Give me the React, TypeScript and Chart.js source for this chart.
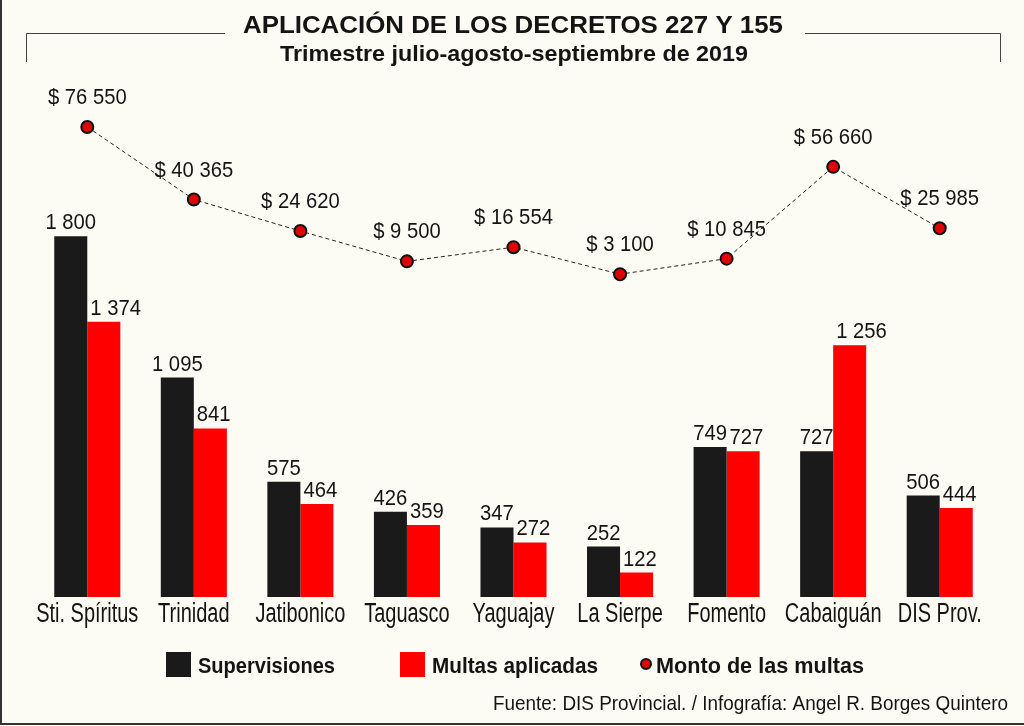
import React, { useEffect, useRef } from "react";
import { Chart, registerables } from "chart.js";

Chart.register(...registerables);

const categories = ["Sti. Spíritus", "Trinidad", "Jatibonico", "Taguasco", "Yaguajay", "La Sierpe", "Fomento", "Cabaiguán", "DIS Prov."];
const supervisiones = [1800, 1095, 575, 426, 347, 252, 749, 727, 506];
const multas = [1374, 841, 464, 359, 272, 122, 727, 1256, 444];
const monto = [76550, 40365, 24620, 9500, 16554, 3100, 10845, 56660, 25985];

const titleText = "APLICACIÓN DE LOS DECRETOS 227 Y 155";
const subtitleText = "Trimestre julio-agosto-septiembre de 2019";
const sourceText = "Fuente: DIS Provincial. / Infografía: Angel R. Borges Quintero";
const legendLabels = ["Supervisiones", "Multas aplicadas", "Monto de las multas"];

const FONT = '"Liberation Sans", Arial, sans-serif';
const BLACK = "#1b1a1a";
const RED = "#ff0000";
const TEXT = "#141414";

const fmt = (n: number) => String(n).replace(/\B(?=(\d{3})+(?!\d))/g, " ");

function drawScaled(ctx: any, text: string, x: number, y: number, font: string, align: "left" | "center" | "right", opts: { width?: number; scale?: number }) {
  ctx.save();
  ctx.font = font;
  const w = ctx.measureText(text).width;
  const sx = opts.width ? opts.width / w : opts.scale || 1;
  ctx.translate(x, y);
  ctx.scale(sx, 1);
  ctx.textAlign = align;
  ctx.textBaseline = "alphabetic";
  ctx.fillText(text, 0, 0);
  ctx.restore();
  return w * sx;
}

function measureScaled(ctx: any, text: string, font: string, scale: number) {
  ctx.save();
  ctx.font = font;
  const w = ctx.measureText(text).width * scale;
  ctx.restore();
  return w;
}

const decorPlugin = {
  id: "decor",
  beforeDraw(chart: any) {
    const ctx = chart.ctx;
    ctx.save();
    ctx.strokeStyle = "#333";
    ctx.lineWidth = 2;
    ctx.beginPath();
    ctx.moveTo(1, 0);
    ctx.lineTo(1, 724);
    ctx.lineTo(1024, 724);
    ctx.stroke();
    ctx.lineWidth = 1;
    ctx.strokeStyle = "#444";
    ctx.beginPath();
    ctx.moveTo(26.5, 62);
    ctx.lineTo(26.5, 33.5);
    ctx.lineTo(225, 33.5);
    ctx.moveTo(805, 33.5);
    ctx.lineTo(1000.5, 33.5);
    ctx.lineTo(1000.5, 62);
    ctx.stroke();
    ctx.fillStyle = TEXT;
    drawScaled(ctx, titleText, 513, 33, `bold 23px ${FONT}`, "center", { width: 540 });
    drawScaled(ctx, subtitleText, 514, 61, `bold 22px ${FONT}`, "center", { width: 468 });
    ctx.fillStyle = BLACK;
    ctx.fillRect(166, 652, 25, 25);
    ctx.fillStyle = RED;
    ctx.fillRect(400, 652, 25, 25);
    ctx.fillStyle = TEXT;
    drawScaled(ctx, legendLabels[0], 198, 673, `bold 22px ${FONT}`, "left", { width: 137 });
    drawScaled(ctx, legendLabels[1], 432, 673, `bold 22px ${FONT}`, "left", { width: 166 });
    drawScaled(ctx, legendLabels[2], 656, 673, `bold 22px ${FONT}`, "left", { width: 208 });
    ctx.beginPath();
    ctx.arc(646, 664, 5, 0, Math.PI * 2);
    ctx.fillStyle = "#e00000";
    ctx.fill();
    ctx.lineWidth = 2;
    ctx.strokeStyle = "#111";
    ctx.stroke();
    ctx.fillStyle = TEXT;
    drawScaled(ctx, sourceText, 1008, 710, `21px ${FONT}`, "right", { width: 515 });
    ctx.restore();
  },
};

const LABEL_FONT = `22px ${FONT}`;
const LABEL_SCALE = 0.92;

const labelPlugin = {
  id: "valueLabels",
  afterDatasetsDraw(chart: any) {
    const ctx = chart.ctx;
    ctx.save();
    ctx.fillStyle = TEXT;
    chart.data.datasets.forEach((ds: any, i: number) => {
      const meta = chart.getDatasetMeta(i);
      meta.data.forEach((el: any, j: number) => {
        const v = ds.data[j];
        if (ds.type === "line") {
          drawScaled(ctx, "$ " + fmt(v), el.x, el.y - 23, LABEL_FONT, "center", { scale: LABEL_SCALE });
        } else if (i === 2) {
          const txt = fmt(v);
          const w = measureScaled(ctx, txt, LABEL_FONT, LABEL_SCALE);
          const left = el.x - el.width / 2;
          const cx = Math.max(el.x, left + 3 + w / 2);
          drawScaled(ctx, txt, cx, el.y - 7, LABEL_FONT, "center", { scale: LABEL_SCALE });
        } else {
          drawScaled(ctx, fmt(v), el.x, el.y - 7, LABEL_FONT, "center", { scale: LABEL_SCALE });
        }
      });
    });
    const xs = chart.scales.x;
    chart.data.labels.forEach((lab: string, i: number) => {
      drawScaled(ctx, lab, xs.getPixelForTick(i), 622, `27px ${FONT}`, "center", { scale: 0.74 });
    });
    ctx.restore();
  },
};

export default function App() {
  const ref = useRef<HTMLCanvasElement>(null);
  useEffect(() => {
    if (!ref.current) return;
    const chart = new Chart(ref.current, {
      type: "bar",
      data: {
        labels: categories,
        datasets: [
          {
            type: "line",
            label: legendLabels[2],
            data: monto,
            yAxisID: "y2",
            borderColor: "#222",
            borderWidth: 1,
            borderDash: [4, 3],
            pointRadius: 6,
            pointBackgroundColor: "#e00000",
            pointBorderColor: "#111",
            pointBorderWidth: 2,
            order: 0,
          } as any,
          {
            type: "bar",
            label: legendLabels[0],
            data: supervisiones,
            backgroundColor: BLACK,
            yAxisID: "y",
            categoryPercentage: 0.62,
            barPercentage: 1,
            order: 1,
          },
          {
            type: "bar",
            label: legendLabels[1],
            data: multas,
            backgroundColor: RED,
            yAxisID: "y",
            categoryPercentage: 0.62,
            barPercentage: 1,
            order: 1,
          },
        ],
      },
      options: {
        responsive: false,
        animation: false,
        devicePixelRatio: 1,
        layout: { padding: { left: 34, right: 31, top: 80, bottom: 121 } },
        plugins: { legend: { display: false }, title: { display: false }, tooltip: { enabled: false } },
        scales: {
          x: {
            grid: { display: false },
            border: { display: false },
            ticks: { display: false },
          },
          y: { display: false, min: 0, max: 2580 },
          y2: { display: false, min: -158000, max: 100000 },
        },
      },
      plugins: [decorPlugin, labelPlugin],
    });
    return () => chart.destroy();
  }, []);
  return (
    <div style={{ position: "absolute", left: 0, top: 0, width: 1024, height: 726, background: "#fcfcf4" }}>
      <canvas ref={ref} width={1024} height={726} style={{ display: "block" }} />
    </div>
  );
}
